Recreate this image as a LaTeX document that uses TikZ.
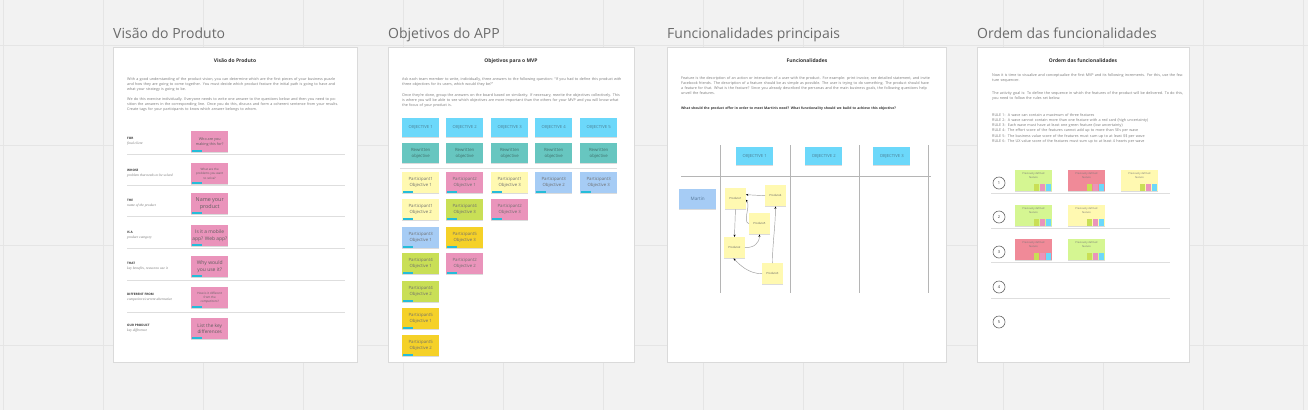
\documentclass[tikz,border=0pt]{standalone}
\usepackage{fontspec}
\setmainfont{Open Sans}
\newfontfamily\serifit{Liberation Serif}
\usetikzlibrary{shadows,arrows.meta}
\definecolor{bgc}{HTML}{F2F2F2}
\definecolor{gridc}{HTML}{E5E5E5}
\definecolor{panelc}{HTML}{DADADA}
\definecolor{titlec}{HTML}{6B6B6B}
\definecolor{headc}{HTML}{333333}
\definecolor{bodyc}{HTML}{7A7A7A}
\definecolor{stxc}{HTML}{5E5E5E}
\definecolor{sepc}{HTML}{DEDEDE}
\definecolor{lanec}{HTML}{B5B5B5}
\definecolor{arrc}{HTML}{9A9A9A}
\definecolor{numc}{HTML}{666666}
\definecolor{lyel}{HTML}{FFF9B1}
\definecolor{lpink}{HTML}{EA94BB}
\definecolor{lblue}{HTML}{A6CCF5}
\definecolor{lime}{HTML}{C9DF56}
\definecolor{oyel}{HTML}{F5D128}
\definecolor{ocyan}{HTML}{6CD8FA}
\definecolor{teal}{HTML}{67C6C0}
\definecolor{lgreen}{HTML}{D5F692}
\definecolor{lred}{HTML}{F08A98}
\definecolor{tagc}{HTML}{25BCD9}
\definecolor{obtx}{HTML}{4C7F94}
\definecolor{rwtx}{HTML}{3F6E69}
\definecolor{patx}{HTML}{6E6E6E}
\definecolor{mttx}{HTML}{557799}
\definecolor{fstx}{HTML}{777777}
\newcommand\bodyf{\fontsize{3.7}{5.2}\selectfont}
\newcommand\tagb[1]{\fill[tagc] ([shift={(1pt,0.8pt)}]#1.south west) rectangle ++(10pt,1.4pt);}
\newcommand\sqs[1]{%
  \fill[lime] ([shift={(-18pt,0.7pt)}]#1.south east) rectangle ++(5.4pt,6.4pt);
  \fill[lpink] ([shift={(-12pt,0.7pt)}]#1.south east) rectangle ++(5.4pt,6.4pt);
  \fill[ocyan] ([shift={(-6pt,0.7pt)}]#1.south east) rectangle ++(5.4pt,6.4pt);}
\begin{document}
\begin{tikzpicture}[x=1pt,y=-1pt,
 panel/.style={fill=white, draw=panelc, line width=0.6pt},
 ptitle/.style={anchor=base west, inner sep=0, font=\fontsize{14}{16}\selectfont, text=titlec},
 phead/.style={anchor=base, inner sep=0, font=\bfseries\fontsize{5}{6}\selectfont, text=headc},
 ptext/.style={anchor=north west, inner sep=0, align=left, font=\bodyf, text=bodyc},
 sticky/.style={anchor=north west, inner sep=0.5pt, align=center, text=stxc,
   drop shadow={shadow xshift=0.2pt, shadow yshift=-1pt, opacity=0.14, fill=black}},
 pk/.style={sticky, fill=lpink, minimum width=37pt, minimum height=21pt},
 ob/.style={sticky, fill=ocyan, minimum width=37pt, minimum height=19pt, text=obtx, font=\fontsize{4.2}{5.5}\selectfont},
 rw/.style={sticky, fill=teal, minimum width=37pt, minimum height=20pt, text=rwtx, font=\fontsize{4.3}{5.8}\selectfont},
 pa/.style={sticky, minimum width=37pt, minimum height=21pt, font=\fontsize{4.3}{6.2}\selectfont, text=patx},
 ft/.style={sticky, fill=lyel, minimum width=20.5pt, minimum height=21pt, font=\fontsize{2.8}{3.5}\selectfont},
 fs/.style={sticky, minimum width=36.5pt, minimum height=21pt,
   label={[anchor=north, yshift=-2.5pt, align=center, inner sep=0, font=\fontsize{2.6}{3.4}\selectfont, text=fstx]north:Previously defined\\feature}},
 sep/.style={draw=sepc, line width=0.8pt},
 rowlab/.style={anchor=base west, inner sep=0, font=\bfseries\fontsize{3.1}{4}\selectfont, text=headc},
 rowsub/.style={anchor=base west, inner sep=0, font=\serifit\itshape\fontsize{3.6}{4}\selectfont, text=bodyc},
 farr/.style={draw=arrc, line width=0.45pt, -{Stealth[length=2.4pt,width=2pt,black]}},
 lane/.style={draw=lanec, line width=0.9pt},
 num/.style={circle, draw=numc, line width=0.6pt, minimum size=12pt, inner sep=0, font=\fontsize{4}{5}\selectfont, text=headc}]
\useasboundingbox (0,0) rectangle (1308,410);
% background with grid
\fill[bgc] (0,0) rectangle (1308,410);
\foreach \gx in {3,103,...,1303} \draw[gridc, line width=0.7pt] (\gx,0) -- (\gx,410);
\foreach \gy in {45,145,245,345} \draw[gridc, line width=0.7pt] (0,\gy) -- (1308,\gy);

% titles
\node[ptitle] (t1) at (113,38) {Visão do Produto};
\node[ptitle] (t2) at (388,38) {Objetivos do APP};
\node[ptitle] (t3) at (667,38) {Funcionalidades principais};
\node[ptitle] (t4) at (977,38) {Ordem das funcionalidades};

% ================= Panel 1 =================
\draw[panel] (113,47) rectangle (357,362);
\node[phead] (h1) at (235,62) {Visão do Produto};
\node[ptext, text width=212pt] (p1a) at (127,77.2) {With a good understanding of the product vision, you can determine which are the first pieces of your business puzzle and how they are going to come together. You must decide which product feature the initial path is going to have and what your strategy is going to be.};
\node[ptext, text width=212pt] (p1b) at (127,97.2) {We do this exercise individually. Everyone needs to write one answer to the questions below and then you need to position the answers in the corresponding line. Once you do this, discuss and form a coherent sentence from your results. Create tags for your participants to know which answer belongs to whom.};

\node[rowlab] (l1) at (127,139) {FOR};
\node[rowsub] (u1) at (127,144) {final client};
\node[rowlab] (l2) at (127,171) {WHOSE};
\node[rowsub] (u2) at (127,176) {problem that needs to be solved};
\node[rowlab] (l3) at (127,201) {THE};
\node[rowsub] (u3) at (127,206) {name of the product};
\node[rowlab] (l4) at (127,233) {IS A};
\node[rowsub] (u4) at (127,238) {product category};
\node[rowlab] (l5) at (127,264) {THAT};
\node[rowsub] (u5) at (127,269) {key benefits, reason to use it};
\node[rowlab] (l6) at (127,295) {DIFFERENT FROM};
\node[rowsub] (u6) at (127,300) {competitors/current alternative};
\node[rowlab] (l7) at (127,326) {OUR PRODUCT};
\node[rowsub] (u7) at (127,331) {key difference};

\foreach \ly in {154,185,216,248,280,312} \draw[sep] (127,\ly) -- (345,\ly);

\node[pk, font=\fontsize{3.7}{5}\selectfont] (s1) at (191,131) {Who are you\\making this for?};
\node[pk, font=\fontsize{3}{4.2}\selectfont] (s2) at (191,163) {What are the\\problems you want\\to solve?};
\node[pk, font=\fontsize{5.4}{7}\selectfont] (s3) at (191,193) {Name your\\product};
\node[pk, font=\fontsize{4.9}{6.6}\selectfont] (s4) at (191,225) {Is it a mobile\\app? Web app?};
\node[pk, font=\fontsize{5}{6.6}\selectfont] (s5) at (191,256) {Why would\\you use it?};
\node[pk, font=\fontsize{3}{4.2}\selectfont] (s6) at (191,287) {How is it different\\from the\\competitors?};
\node[pk, font=\fontsize{4.7}{6.4}\selectfont] (s7) at (191,318) {List the key\\differences};
\foreach \n in {s1,s2,s3,s4,s5,s6,s7} {\tagb{\n}}

% ================= Panel 2 =================
\draw[panel] (388,47) rectangle (634,362);
\node[phead] (h2) at (511,62) {Objetivos para o MVP};
\node[ptext, text width=220pt] (p2a) at (402,77.2) {Ask each team member to write, individually, three answers to the following question: ``If you had to define this product with three objectives for its users, which would they be?''};
\node[ptext, text width=220pt] (p2b) at (402,93.2) {Once they're done, group the answers on the board based on similarity. If necessary, rewrite the objectives collectively. This is where you will be able to see which objectives are more important than the others for your MVP and you will know what the focus of your product is.};

\node[ob] (o1) at (402,118) {OBJECTIVE 1};
\node[ob] (o2) at (446,118) {OBJECTIVE 2};
\node[ob] (o3) at (491,118) {OBJECTIVE 3};
\node[ob] (o4) at (535,118) {OBJECTIVE 4};
\node[ob] (o5) at (580,118) {OBJECTIVE 5};
\node[rw] (r1) at (402,143) {Rewritten\\objective};
\node[rw] (r2) at (446,143) {Rewritten\\objective};
\node[rw] (r3) at (491,143) {Rewritten\\objective};
\node[rw] (r4) at (535,143) {Rewritten\\objective};
\node[rw] (r5) at (580,143) {Rewritten\\objective};
\draw[sep] (400,168) -- (617,168);

\node[pa, fill=lyel] (q11) at (402,172) {Participant1\\Objective 1};
\node[pa, fill=lpink] (q12) at (446,172) {Participant2\\Objective 1};
\node[pa, fill=lyel] (q13) at (491,172) {Participant1\\Objective 3};
\node[pa, fill=lblue] (q14) at (535,172) {Participant3\\Objective 2};
\node[pa, fill=lblue] (q15) at (580,172) {Participant3\\Objective 3};
\node[pa, fill=lyel] (q21) at (402,199) {Participant1\\Objective 2};
\node[pa, fill=lime] (q22) at (446,199) {Participant4\\Objective 3};
\node[pa, fill=lpink] (q23) at (491,199) {Participant2\\Objective 3};
\node[pa, fill=lblue] (q31) at (402,227) {Participant3\\Objective 1};
\node[pa, fill=oyel] (q32) at (446,227) {Participant5\\Objective 3};
\node[pa, fill=lime] (q41) at (402,253) {Participant4\\Objective 1};
\node[pa, fill=lpink] (q42) at (446,253) {Participant2\\Objective 2};
\node[pa, fill=lime] (q51) at (402,281) {Participant4\\Objective 2};
\node[pa, fill=oyel] (q61) at (402,308) {Participant5\\Objective 1};
\node[pa, fill=oyel] (q71) at (402,335) {Participant5\\Objective 2};
\foreach \n in {q11,q12,q13,q14,q15,q21,q22,q23,q31,q32,q41,q42,q51,q61,q71} {\tagb{\n}}

% ================= Panel 3 =================
\draw[panel] (667,47) rectangle (946,362);
\node[phead] (h3) at (807,62) {Funcionalidades};
\node[ptext, text width=250pt] (p3a) at (681,76.2) {Feature is the description of an action or interaction of a user with the product. For example: print invoice, see detailed statement, and invite Facebook friends. The description of a feature should be as simple as possible. The user is trying to do something. The product should have a feature for that. What is the feature? Since you already described the personas and the main business goals, the following questions help unveil the features.};
\node[ptext, text width=262pt, text=headc, font=\bfseries\fontsize{3.4}{5}\selectfont] (p3b) at (681,106.6) {What should the product offer in order to meet Martin's need? What functionality should we build to achieve this objective?};

\coordinate (v1t) at (720,145); \coordinate (v1b) at (720,293);
\coordinate (v2t) at (790,145); \coordinate (v2b) at (790,293);
\coordinate (v3t) at (859,145); \coordinate (v3b) at (859,293);
\coordinate (v4t) at (928,145); \coordinate (v4b) at (928,293);
\draw[lane] (v1t) -- (v1b);
\draw[lane] (v2t) -- (v2b);
\draw[lane] (v3t) -- (v3b);
\draw[lane] (v4t) -- (v4b);
\coordinate (hl) at (681,176); \coordinate (hr) at (931,176);
\draw[lane, line width=0.8pt] (hl) -- (hr);

\node[ob, minimum height=18pt] (f1) at (736,147) {OBJECTIVE 1};
\node[ob, minimum height=18pt] (f2) at (805,147) {OBJECTIVE 2};
\node[ob, minimum height=18pt] (f3) at (873,147) {OBJECTIVE 3};
\node[sticky, fill=lblue, minimum width=37pt, minimum height=20pt, font=\fontsize{4.6}{6}\selectfont, text=mttx] (mt) at (679,189) {Martin};

\node[ft] (d1) at (725,188) {Produto1};
\node[ft] (d4) at (765,185) {Produto4};
\node[ft] (d5) at (749,213) {Produto5};
\node[ft] (d2) at (724,237) {Produto2};
\node[ft] (d3) at (762,263) {Produto3};

\draw[farr] (d4.west) -- ([yshift=4pt]d1.east);
\draw[farr] (d5.west) .. controls +(-7,-2) and +(5,7) .. ([yshift=-1pt]d1.east);
\draw[farr] (d1.south) -- (d2.north);
\draw[farr] (d2.east) .. controls +(9,0) and +(0,9) .. (d5.south);
\draw[farr] (d3.west) .. controls +(-14,0) and +(6,6) .. ([xshift=-1pt]d2.south);
\draw[farr] (d3.north) .. controls +(0,-20) and +(0,20) .. (d4.south);

% ================= Panel 4 =================
\draw[panel] (977,47) rectangle (1189,362);
\node[phead] (h4) at (1083,62) {Ordem das funcionalidades};
\node[ptext, text width=192pt] (p4a) at (992,73.2) {Now it is time to visualize and conceptualize the first MVP and its following increments. For this, use the feature sequencer.};
\node[ptext, text width=192pt] (p4b) at (992,91.2) {The activity goal is: To define the sequence in which the features of the product will be delivered. To do this, you need to follow the rules set below.};
\node[ptext, text width=192pt] (p4c) at (992,113.2) {RULE 1:\ \ A wave can contain a maximum of three features\\
RULE 2:\ \ A wave cannot contain more than one feature with a red card (high uncertainty)\\
RULE 3:\ \ Each wave must have at least one green feature (low uncertainty)\\
RULE 4:\ \ The effort score of the features cannot add up to more than 5Es per wave\\
RULE 5:\ \ The business value score of the features must sum up to at least \$\$ per wave\\
RULE 6:\ \ The UX value score of the features must sum up to at least 4 hearts per wave};

\node[num] (n1) at (999,183) {1};
\node[num] (n2) at (999,217) {2};
\node[num] (n3) at (999,252) {3};
\node[num] (n4) at (999,287) {4};
\node[num] (n5) at (999,322) {5};
\foreach \ly in {193,228,262,298} \draw[sep, line width=1pt] (991,\ly) -- (1170,\ly);

\node[fs, fill=lgreen] (w11) at (1015,170) {};
\node[fs, fill=lred] (w12) at (1068,170) {};
\node[fs, fill=lyel] (w13) at (1121,170) {};
\node[fs, fill=lgreen] (w21) at (1015,205) {};
\node[fs, fill=lyel] (w22) at (1068,205) {};
\node[fs, fill=lred] (w31) at (1015,239) {};
\node[fs, fill=lgreen] (w32) at (1068,239) {};
\foreach \n in {w11,w12,w13,w21,w22,w31,w32} {\sqs{\n}}
\end{tikzpicture}
\end{document}
